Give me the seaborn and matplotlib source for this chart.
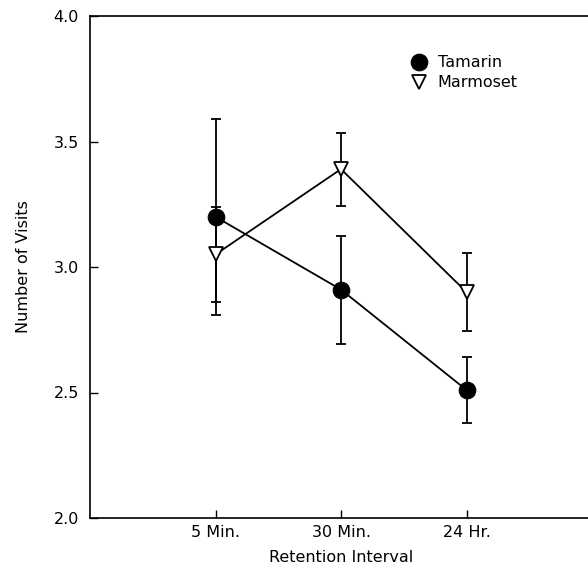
import matplotlib
matplotlib.use("Agg")
import matplotlib.pyplot as plt
import numpy as np
import pandas as pd
import seaborn as sns

intervals = ["5 Min.", "30 Min.", "24 Hr."]
tamarin_mean = [3.20, 2.91, 2.51]
tamarin_err = [0.39, 0.215, 0.13]
marmoset_mean = [3.05, 3.39, 2.90]
marmoset_err = [0.19, 0.145, 0.155]
y_ticks = [2.0, 2.5, 3.0, 3.5, 4.0]

sns.set_style("ticks")
plt.rcParams["font.family"] = ["DejaVu Sans"]
plt.rcParams["text.color"] = "black"
plt.rcParams["axes.labelcolor"] = "black"

pos = np.arange(1, len(intervals) + 1)
df = pd.DataFrame({
    "pos": np.concatenate([pos, pos]),
    "visits": tamarin_mean + marmoset_mean,
    "species": ["Tamarin"] * 3 + ["Marmoset"] * 3,
})

fig = plt.figure(figsize=(5.88, 5.84), dpi=100)
ax = fig.add_axes([90 / 588, 1 - 518 / 584, 502 / 588, 502 / 584])

# error bars first, markers on top
ax.errorbar(pos, tamarin_mean, yerr=tamarin_err, fmt="none", ecolor="black",
            elinewidth=1.3, capsize=3.6, capthick=1.3, zorder=1)
ax.errorbar(pos, marmoset_mean, yerr=marmoset_err, fmt="none", ecolor="black",
            elinewidth=1.3, capsize=3.6, capthick=1.3, zorder=1)

sns.lineplot(data=df[df.species == "Tamarin"], x="pos", y="visits", ax=ax,
             color="black", linewidth=1.3, marker="o", markersize=12,
             markerfacecolor="black", markeredgecolor="black",
             label="Tamarin", zorder=3)
sns.lineplot(data=df[df.species == "Marmoset"], x="pos", y="visits", ax=ax,
             color="black", linewidth=1.3, marker="v", markersize=10.5,
             markerfacecolor="white", markeredgecolor="black", markeredgewidth=1.3,
             label="Marmoset", zorder=3)

ax.set_xlim(0, 4)
ax.set_ylim(2.0, 4.0)
ax.set_xticks(pos)
ax.set_xticklabels(intervals)
ax.set_yticks(y_ticks)
ax.set_yticklabels([f"{t:.1f}" for t in y_ticks])
ax.tick_params(direction="in", length=6, width=1, labelsize=11.5,
               colors="black", labelcolor="black")
ax.tick_params(axis="x", pad=5)
ax.tick_params(axis="y", pad=8)

for s in ax.spines.values():
    s.set_linewidth(1.2)
    s.set_color("black")

ax.set_xlabel("Retention Interval", fontsize=11.5, labelpad=7)
ax.set_ylabel("Number of Visits", fontsize=11.5, labelpad=16)

leg = ax.legend(loc="upper left", bbox_to_anchor=(0.61, 0.95), frameon=False,
                fontsize=11.5, handlelength=1.0, handletextpad=0.7,
                labelspacing=0.3)
for h in leg.legend_handles:
    h.set_linestyle("none")
for t in leg.get_texts():
    t.set_color("black")

fig.savefig("out.png", dpi=100)
